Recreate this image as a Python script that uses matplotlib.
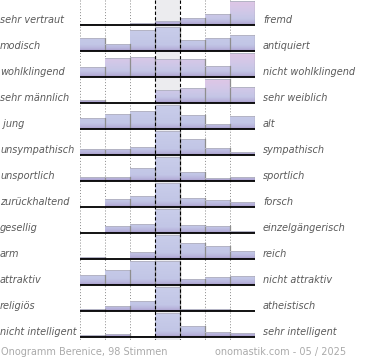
import numpy as np
import matplotlib
matplotlib.use("Agg")
import matplotlib.pyplot as plt
from matplotlib.patches import Rectangle
from matplotlib.colors import to_rgb

left_labels = ["sehr vertraut", "modisch", "wohlklingend", "sehr männlich", " jung",
               "unsympathisch", "unsportlich", "zurückhaltend", "gesellig", "arm",
               "attraktiv", "religiös", "nicht intelligent"]
right_labels = ["fremd", "antiquiert", "nicht wohlklingend", "sehr weiblich", "alt",
                "sympathisch", "sportlich", "forsch", "einzelgängerisch", "reich",
                "nicht attraktiv", "atheistisch", "sehr intelligent"]

# vote shares (%) per row, 7 steps from left to right
r01 = [3, 0, 5, 8, 14, 22, 48]
r02 = [12, 7, 20, 23, 11, 12, 15]
r03 = [8, 16, 17, 15, 15, 9, 20]
r04 = [4, 0, 0, 18, 21, 34, 23]
r05 = [11, 15, 18, 24, 14, 5, 13]
r06 = [9, 9, 11, 34, 23, 10, 4]
r07 = [7, 7, 21, 39, 14, 5, 7]
r08 = [0, 12, 17, 38, 14, 11, 8]
r09 = [0, 13, 16, 42, 14, 12, 3]
r10 = [3, 0, 10, 34, 23, 19, 11]
r11 = [10, 16, 25, 25, 6, 8, 9]
r12 = [5, 11, 23, 53, 4, 4, 0]
r13 = [4, 6, 2, 47, 22, 10, 8]
rows = [r01, r02, r03, r04, r05, r06, r07, r08, r09, r10, r11, r12, r13]
pink_rows = [0, 2, 3]

footer_left = "Onogramm Berenice, 98 Stimmen"
footer_right = "onomastik.com - 05 / 2025"

W, H = 370, 360
fig = plt.figure(figsize=(W / 100, H / 100), dpi=100)
ROW = 26.0           # px per row
AX_TOP, AX_BOT = 0, 340
ax = fig.add_axes([80 / W, (H - AX_BOT) / H, 175 / W, (AX_BOT - AX_TOP) / H])
ymax = (AX_BOT - AX_TOP) / ROW
ax.set_xlim(0, 7)
ax.set_ylim(ymax, 0)
ax.axis("off")

base0 = 25 / ROW
full = 24 / ROW


def grad(stops, n=64):
    pos = [s[0] for s in stops]
    cols = np.array([to_rgb(s[1]) for s in stops])
    t = np.linspace(0, 1, n)
    out = np.stack([np.interp(t, pos, cols[:, k]) for k in range(3)], axis=1)
    return out[:, None, :]


g_blue = grad([(0, "#c9cdea"), (0.75, "#c2c6e6"), (0.9, "#b8b4dc"), (1, "#a89cca")])
g_pink = grad([(0, "#dfc6e6"), (0.4, "#d2c8e8"), (0.75, "#c4c6e6"), (0.9, "#b8b2da"), (1, "#a89cca")])

# neutral column background
ax.axvspan(3, 4, color="#ececef", zorder=0, lw=0)

for i, vals in enumerate(rows):
    base = base0 + i
    top = base - full
    m = max(vals)
    g = g_pink if i in pink_rows else g_blue
    for c, v in enumerate(vals):
        h = v / m * full
        if h <= 0:
            continue
        rect = Rectangle((c, base - h), 1, h, transform=ax.transData)
        im = ax.imshow(g, extent=(c, c + 1, base, top), aspect="auto",
                       interpolation="bilinear", zorder=2)
        im.set_clip_path(rect)
        ax.plot([c, c + 1], [base - h, base - h], color="#b4b4c4", lw=0.7, zorder=3)
        ax.plot([c + 1, c + 1], [base - h, base], color="#8e8e8e", lw=0.9, zorder=3)
    ax.plot([0, 7], [base, base], color="black", lw=1.3, zorder=5, solid_capstyle="butt")
    ax.text(-80 / 25, base - 5 / ROW, left_labels[i], ha="left", va="center",
            fontsize=7, style="italic", color="#5a5a5a")
    ax.text(7 + 8 / 25, base - 5 / ROW, right_labels[i], ha="left", va="center",
            fontsize=7, style="italic", color="#5a5a5a")

ax.set_xlim(0, 7)
ax.set_ylim(ymax, 0)

for c in [0, 1, 2, 5, 6, 7]:
    ax.plot([c, c], [0, ymax], color="#8a8a8a", lw=0.7, ls=(0, (1, 2)), zorder=1)
for c in [3, 4]:
    ax.plot([c, c], [0, ymax], color="black", lw=0.8, ls=(0, (3, 2)), zorder=6)

fig.text(1 / W, 1 - 352 / H, footer_left, ha="left", va="center", fontsize=7, color="#aaaaaa")
fig.text(346 / W, 1 - 352 / H, footer_right, ha="right", va="center", fontsize=7, color="#aaaaaa")

fig.savefig("out.png", dpi=100)
